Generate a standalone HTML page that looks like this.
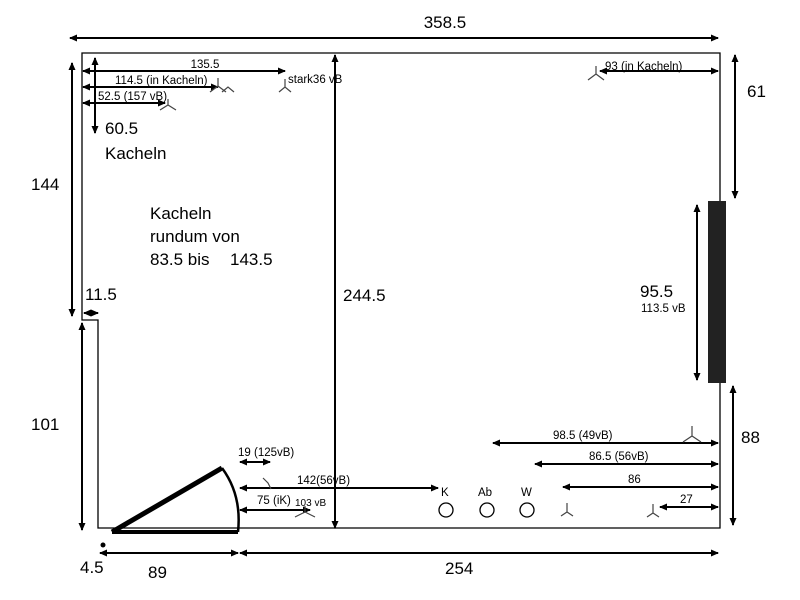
<!DOCTYPE html>
<html><head><style>body{margin:0;background:#fff}svg{display:block}text{font-family:"Liberation Sans",sans-serif;fill:#000}</style></head><body>
<svg width="800" height="600" viewBox="0 0 800 600" xmlns="http://www.w3.org/2000/svg">
<defs><marker id="a" markerWidth="8" markerHeight="8" refX="7" refY="4" orient="auto-start-reverse" markerUnits="userSpaceOnUse"><path d="M0,0.5 L8,4 L0,7.5z" fill="#000"/></marker></defs>
<g stroke="#000" fill="none" stroke-width="1.3">
<path d="M82,53 H720 V528 H98 V320 H82 Z"/>
</g>
<rect x="708" y="201" width="18" height="182" fill="#222"/>
<g stroke="#000" stroke-width="2" marker-start="url(#a)" marker-end="url(#a)" fill="none">
<line x1="70" y1="38" x2="718" y2="38"/>
<line x1="735" y1="55" x2="735" y2="198"/>
<line x1="733" y1="386" x2="733" y2="525"/>
<line x1="72" y1="63" x2="72" y2="316"/>
<line x1="82" y1="323" x2="82" y2="530"/>
<line x1="95" y1="58" x2="95" y2="133"/>
<line x1="83" y1="71" x2="285" y2="71"/>
<line x1="83" y1="87" x2="218" y2="87"/>
<line x1="83" y1="103" x2="165" y2="103"/>
<line x1="335" y1="55" x2="335" y2="528"/>
<line x1="600" y1="71" x2="718" y2="71"/>
<line x1="697" y1="205" x2="697" y2="380"/>
<line x1="493" y1="443" x2="718" y2="443"/>
<line x1="535" y1="464" x2="718" y2="464"/>
<line x1="563" y1="487" x2="718" y2="487"/>
<line x1="660" y1="507" x2="718" y2="507"/>
<line x1="240" y1="488" x2="438" y2="488"/>
<line x1="240" y1="462" x2="270" y2="462"/>
<line x1="240" y1="510" x2="310" y2="510"/>
<line x1="100" y1="553" x2="238" y2="553"/>
<line x1="240" y1="553" x2="718" y2="553"/>
<line x1="84" y1="313" x2="98" y2="313"/>
</g>
<g stroke="#000" fill="none">
<line x1="112" y1="532" x2="222" y2="468" stroke-width="5"/>
<line x1="112" y1="532" x2="238" y2="532" stroke-width="4"/>
<path d="M222,468 Q242,495 238,532" stroke-width="2.5"/>
<circle cx="446" cy="510" r="7" stroke-width="1.3"/>
<circle cx="487" cy="510" r="7" stroke-width="1.3"/>
<circle cx="527" cy="510" r="7" stroke-width="1.3"/>
</g>
<g stroke="#444" stroke-width="1.2" fill="none">
<path d="M210,92 l8,-6 l8,6 M218,86 v-8 M222,92 l6,-5 l6,5"/>
<path d="M279,92 l6,-5 l6,5 M285,87 v-8"/>
<path d="M160,110 l8,-5 l8,5 M168,105 v-6"/>
<path d="M588,80 l8,-6 l8,6 M596,74 v-8"/>
<path d="M683,442 l9,-6 l9,6 M692,436 v-10"/>
<path d="M295,517 l10,-5 l10,5 M305,512 v-6"/>
<path d="M561,516 l6,-4 l6,4 M567,512 v-9"/>
<path d="M647,517 l6,-4 l6,4 M653,513 v-9"/>
<path d="M263,478 l5,5 l3,6"/>
</g>
<circle cx="103" cy="545" r="2.5" fill="#000"/>
<g font-size="17">
<text x="445" y="28" text-anchor="middle">358.5</text>
<text x="747" y="97">61</text>
<text x="741" y="443">88</text>
<text x="31" y="190">144</text>
<text x="31" y="430">101</text>
<text x="85" y="300">11.5</text>
<text x="105" y="134">60.5</text>
<text x="105" y="159">Kacheln</text>
<text x="150" y="219">Kacheln</text>
<text x="150" y="242">rundum von</text>
<text x="150" y="265">83.5 bis</text>
<text x="230" y="265">143.5</text>
<text x="343" y="301">244.5</text>
<text x="640" y="297">95.5</text>
<text x="80" y="573">4.5</text>
<text x="148" y="578">89</text>
<text x="445" y="574">254</text>
</g>
<g font-size="11.5">
<text x="205" y="68" text-anchor="middle">135.5</text>
<text x="115" y="84">114.5 (in Kacheln)</text>
<text x="98" y="100">52.5 (157 vB)</text>
<text x="288" y="83">stark36 vB</text>
<text x="605" y="70">93 (in Kacheln)</text>
<text x="641" y="312">113.5 vB</text>
<text x="553" y="439">98.5 (49vB)</text>
<text x="589" y="460">86.5 (56vB)</text>
<text x="628" y="483">86</text>
<text x="680" y="503">27</text>
<text x="238" y="456">19 (125vB)</text>
<text x="297" y="484">142(56vB)</text>
<text x="257" y="504">75 (iK)</text>
<text x="295" y="506" font-size="10">103 vB</text>
<text x="441" y="496">K</text>
<text x="478" y="496">Ab</text>
<text x="521" y="496">W</text>
</g>
</svg>
</body></html>
